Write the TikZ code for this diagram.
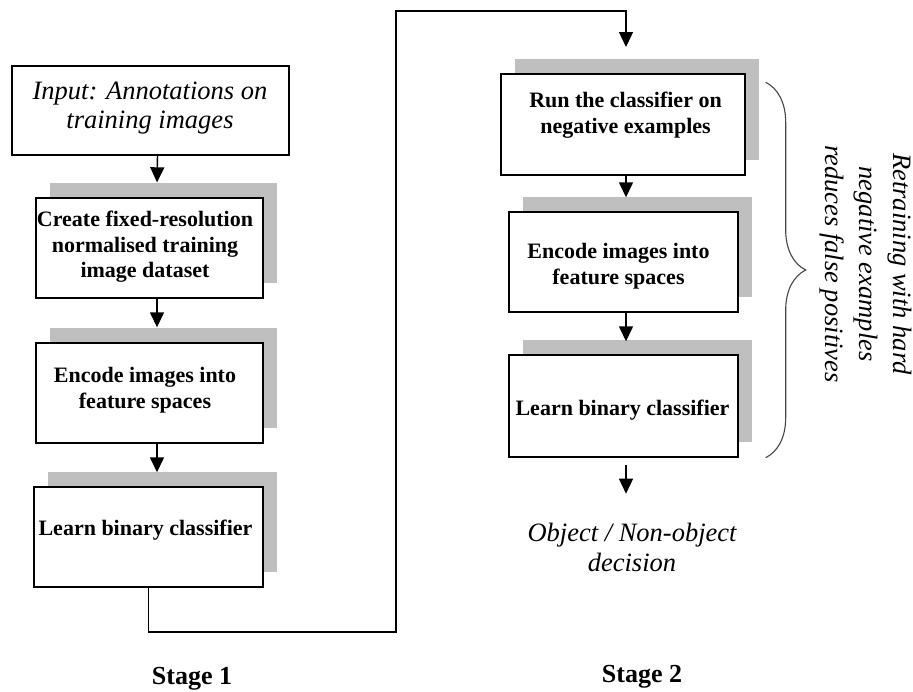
\documentclass[tikz,border=0pt]{standalone}
\usepackage{fontspec}
\setmainfont{Liberation Serif}
\usetikzlibrary{arrows.meta,positioning,shadows,decorations.pathreplacing}
\definecolor{shgray}{RGB}{191,191,191}
\definecolor{brgray}{RGB}{70,70,70}
\tikzset{
  box/.style={draw, line width=1.4pt, fill=white, inner sep=0pt},
  shbox/.style={box, drop shadow={shadow xshift=14pt, shadow yshift=15pt, fill=shgray, opacity=1}},
  btxt/.style={font=\fontsize{22}{25.5}\selectfont\bfseries, align=center, inner sep=0pt},
  itxt/.style={font=\fontsize{26.5}{29}\selectfont\itshape, align=center, inner sep=0pt},
  stxt/.style={font=\fontsize{26}{30}\selectfont\bfseries, inner sep=0pt},
  flow/.style={-{Triangle[length=15pt, width=14pt]}, line width=1.4pt},
  brc/.style={decorate, decoration={brace, amplitude=40pt}, brgray, line width=1.1pt},
}

\begin{document}
\begin{tikzpicture}[x=1pt, y=-1pt]
  \useasboundingbox (0,0) rectangle (913,691);
  % stage 1
  \node[box, minimum width=277pt, minimum height=89pt] (input) at (150.5,110.5) {};
  \node[itxt] (inputtxt) at (150,108) {Input: Annotations on\\training images};
  \node[shbox, minimum width=227pt, minimum height=100pt] (create) at (149.5,248) {};
  \node[btxt] (createtxt) at (145,247) {Create fixed-resolution\\normalised training\\image dataset};
  \node[shbox, minimum width=227pt, minimum height=100pt] (encodeA) at (149.5,393) {};
  \node[btxt] (encodeAtxt) at (145,390) {Encode images into\\feature spaces};
  \node[shbox, minimum width=229pt, minimum height=100pt] (learnA) at (148.5,537) {};
  \node[btxt] (learnAtxt) at (145.5,530) {Learn binary classifier};
  \node[stxt] (stageA) at (192,679) {Stage 1};
  % stage 2
  \node[shbox, minimum width=244pt, minimum height=101pt] (run) at (623,124.5) {};
  \node[btxt] (runtxt) at (625.5,115) {Run the classifier on\\negative examples};
  \node[shbox, minimum width=229pt, minimum height=100pt] (encodeB) at (623.5,262) {};
  \node[btxt] (encodeBtxt) at (618.5,266) {Encode images into\\feature spaces};
  \node[shbox, minimum width=229pt, minimum height=102pt] (learnB) at (623.5,406) {};
  \node[btxt] (learnBtxt) at (622.5,410) {Learn binary classifier};
  \node[itxt, font=\fontsize{26.5}{30}\selectfont\itshape] (decision) at (632,547) {Object / Non-object\\decision};
  \node[stxt] (stageB) at (642,677) {Stage 2};
  \node[itxt, font=\fontsize{26.5}{34}\selectfont\itshape, rotate=-90] (retrain) at (866,264)
    {Retraining with hard\\negative examples\\reduces false positives};
  % connectors
  \coordinate (loopbot) at (396,632);
  \coordinate (looptop) at (396,11);
  \coordinate (loopend) at (626,47);
  \draw[flow] ([shift={(7,0)}]input.south) -- ([shift={(7.5,-15)}]create.north);
  \draw[flow] ([shift={(7.5,0)}]create.south) -- ([shift={(7.5,-15)}]encodeA.north);
  \draw[flow] ([shift={(7.5,0)}]encodeA.south) -- ([shift={(8.5,-14)}]learnA.north);
  \draw[flow] (learnA.south) |- (loopbot) -- (looptop) -| (loopend);
  \draw[flow] ([shift={(3,0)}]run.south) -- ([shift={(2.5,-14)}]encodeB.north);
  \draw[flow] ([shift={(2.5,0)}]encodeB.south) -- ([shift={(2.5,-13)}]learnB.north);
  \draw[flow] ([shift={(2.5,7)}]learnB.south) -- ([shift={(2.5,36)}]learnB.south);
  \draw[brc] ([shift={(20,9)}]run.north east) -- ([shift={(27,0)}]learnB.south east);
\end{tikzpicture}
\end{document}
